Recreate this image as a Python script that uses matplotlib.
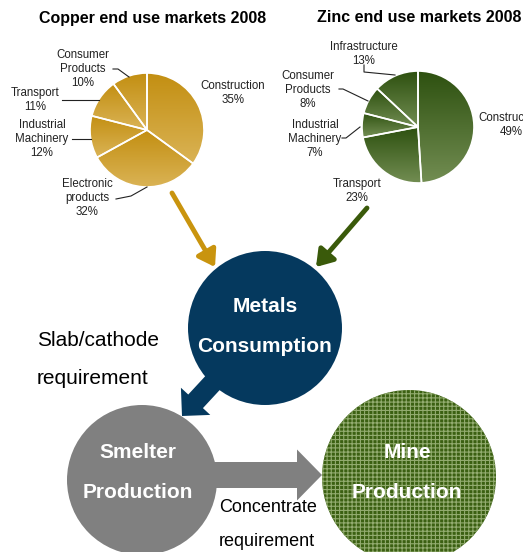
import numpy as np
import matplotlib
matplotlib.use('Agg')
import matplotlib.pyplot as plt
from matplotlib.colors import LinearSegmentedColormap
from matplotlib.patches import Circle, FancyArrow, FancyArrowPatch

W, H = 523, 552

# end use shares, 2008 (%)
copper_labels = ['Construction', 'Electronic\nproducts', 'Industrial\nMachinery', 'Transport', 'Consumer\nProducts']
copper_shares = [35, 32, 12, 11, 10]
zinc_labels = ['Construction', 'Transport', 'Industrial\nMachinery', 'Consumer\nProducts', 'Infrastructure']
zinc_shares = [49, 23, 7, 8, 13]

# label placement (px from top-left) and leader lines
copper_label_pos = [(233, 93), (87, 198), (42, 139), (35, 100), (83, 69)]
copper_leaders = [None, [(116, 199), (131, 196), (147, 187)], [(72, 139), (91, 139)],
                  [(62, 100), (99, 100)], [(113, 69), (118, 69), (129, 77)]]
zinc_label_pos = [(511, 125), (357, 191), (315, 139), (308, 90), (364, 54)]
zinc_leaders = [None, None, [(342, 138), (346, 138), (360, 127)],
                [(339, 89), (343, 89), (368, 101)], [(364, 65), (364, 72), (395, 75)]]

plt.rcParams['font.family'] = ['Liberation Sans', 'DejaVu Sans']
plt.rcParams['hatch.linewidth'] = 0.8

fig = plt.figure(figsize=(W / 100, H / 100), dpi=100)
ax = fig.add_axes([0, 0, 1, 1])


def P(x, y):
    # page coordinates measured from the top-left corner
    return (x, H - y)


def gradient_pie(shares, center, radius, dark, light):
    wedges, _ = ax.pie(shares, center=P(*center), radius=radius, startangle=90,
                       counterclock=False, frame=True,
                       wedgeprops=dict(facecolor='none', edgecolor='white', linewidth=1.2))
    cmap = LinearSegmentedColormap.from_list('shade', [dark, light])
    grad = np.linspace(0, 1, 64)[:, None]
    for w in wedges:
        t = np.radians(np.linspace(w.theta1, w.theta2, 60))
        xs = np.r_[w.center[0], w.center[0] + w.r * np.cos(t)]
        ys = np.r_[w.center[1], w.center[1] + w.r * np.sin(t)]
        im = ax.imshow(grad, cmap=cmap, extent=[xs.min(), xs.max(), ys.min(), ys.max()],
                       aspect='auto', origin='upper', zorder=0.5)
        im.set_clip_path(w)
    return wedges


def pie_labels(labels, shares, positions, leaders):
    for lab, val, pos, lead in zip(labels, shares, positions, leaders):
        ax.text(*P(*pos), f'{lab}\n{val}%', ha='center', va='center', fontsize=8.3,
                color='#222222', linespacing=1.25)
        if lead:
            xs, ys = zip(*[P(*p) for p in lead])
            ax.plot(xs, ys, color='#222222', lw=0.8)


gradient_pie(copper_shares, (147, 130), 57, '#C38F12', '#DAB355')
gradient_pie(zinc_shares, (418, 127), 56, '#2E5110', '#728D52')
pie_labels(copper_labels, copper_shares, copper_label_pos, copper_leaders)
pie_labels(zinc_labels, zinc_shares, zinc_label_pos, zinc_leaders)

ax.text(*P(153, 18), 'Copper end use markets 2008', ha='center', va='center',
        fontsize=11.5, fontweight='bold', color='black')
ax.text(*P(419, 18), 'Zinc end use markets 2008', ha='center', va='center',
        fontsize=11.5, fontweight='bold', color='black')

# feed arrows from the pies into consumption
for start, end, col in [((172, 193), (215, 267), '#C9940E'), ((367, 208), (316, 267), '#3A5A0A')]:
    ax.add_patch(FancyArrowPatch(P(*start), P(*end), arrowstyle='-|>,head_length=0.6,head_width=0.4',
                                 mutation_scale=16, lw=3.5, color=col, shrinkA=0, shrinkB=0))

navy = '#05395E'
grey = '#808080'

# flow circles
ax.add_patch(Circle(P(142, 480), 75, facecolor=grey, edgecolor='none', zorder=2))
ax.add_patch(Circle(P(409, 477), 87, facecolor='#3B6012', edgecolor='#93AC70', lw=0,
                    hatch='++++', zorder=2))
ax.add_patch(FancyArrow(*P(180, 475), 142, 0, width=26, head_width=51, head_length=25,
                        length_includes_head=True, color=grey, lw=0, zorder=1.5))
ax.add_patch(Circle(P(265, 328), 77, facecolor=navy, edgecolor='none', zorder=3))
ax.add_patch(FancyArrow(*P(232, 362), -50, -54, width=20, head_width=40, head_length=20,
                        length_includes_head=True, color=navy, lw=0, zorder=3))

for (x, y), s in [((265, 307), 'Metals'), ((265, 347), 'Consumption'),
                  ((138, 453), 'Smelter'), ((138, 492), 'Production'),
                  ((407, 453), 'Mine'), ((407, 492), 'Production')]:
    ax.text(*P(x, y), s, ha='center', va='center', fontsize=15, fontweight='bold',
            color='white', zorder=5)

ax.text(*P(37, 340), 'Slab/cathode', ha='left', va='center', fontsize=15, color='black')
ax.text(*P(37, 379), 'requirement', ha='left', va='center', fontsize=15, color='black')
ax.text(*P(219, 507), 'Concentrate', ha='left', va='center', fontsize=13, color='black')
ax.text(*P(219, 542), 'requirement', ha='left', va='center', fontsize=13, color='black')

ax.set_xlim(0, W)
ax.set_ylim(0, H)
ax.axis('off')
fig.savefig('out.png', dpi=100)
